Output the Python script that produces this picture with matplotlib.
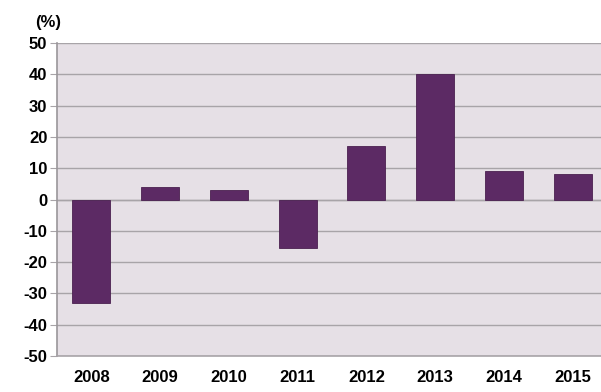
import numpy as np
import matplotlib
matplotlib.use('Agg')
from matplotlib import pyplot as plt

years = ['2008', '2009', '2010', '2011', '2012', '2013', '2014', '2015']
growth = [-33, 4, 3, -15.5, 17, 40, 9, 8]
yticks = [50, 40, 30, 20, 10, 0, -10, -20, -30, -40, -50]

plt.rcParams['font.family'] = ['Liberation Sans', 'DejaVu Sans']

fig = plt.figure(figsize=(6.01, 3.92), dpi=100)
# plot area runs a little past the right edge, like the source picture
ax = fig.add_axes([57/601, 36/392, 550/601, 313/392])
ax.set_facecolor('#e6e0e6')

x = np.arange(len(years))
ax.bar(x, growth, width=0.55, color='#5c2a64', edgecolor='#4a2050', linewidth=0.6, zorder=3)

ax.set_ylim(-50, 50)
ax.set_xlim(-0.5, len(years) - 0.5)
ax.set_yticks(yticks)
ax.set_yticklabels([str(v) for v in yticks], fontsize=12, fontweight='bold')
ax.set_xticks(x)
ax.set_xticklabels(years, fontsize=12, fontweight='bold')

ax.grid(axis='y', color='#a8a4a8', linewidth=1.0, zorder=1)
ax.axhline(0, color='#a8a4a8', linewidth=1.0, zorder=2)
for s in ['top', 'right']:
    ax.spines[s].set_visible(False)
ax.spines['left'].set_color('#9a969a')
ax.spines['bottom'].set_color('#a8a4a8')
ax.spines['left'].set_linewidth(1.2)
ax.spines['bottom'].set_linewidth(1.2)
ax.tick_params(axis='y', length=5, color='#a8a4a8', pad=2)
ax.tick_params(axis='x', length=0, pad=10)

fig.text(35/601, 1 - 22/392, '(%)', fontsize=12, fontweight='bold', va='center', ha='left')

fig.savefig('out.png', dpi=100)
